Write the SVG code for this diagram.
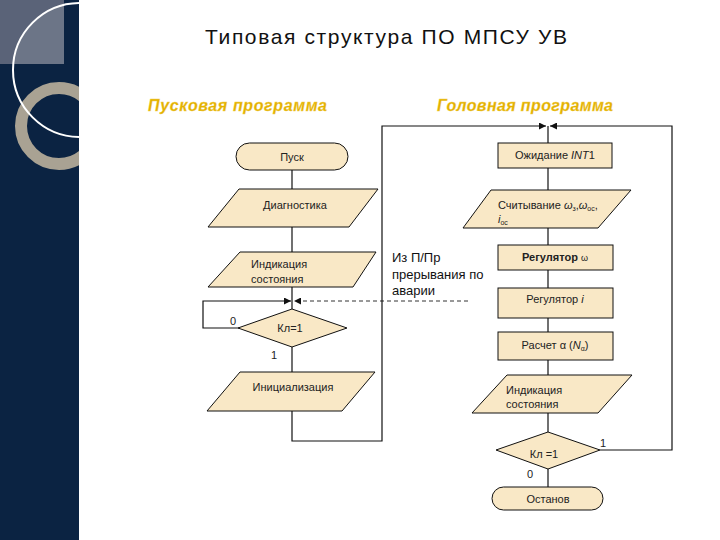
<svg xmlns="http://www.w3.org/2000/svg" width="720" height="540" viewBox="0 0 720 540">
<defs>
<style>
.box{fill:#f9e8c6;stroke:#111;stroke-width:1}
.ln{fill:none;stroke:#111;stroke-width:1.2}
.dash{fill:none;stroke:#333;stroke-width:1;stroke-dasharray:4 3}
.t{font-family:"Liberation Sans",Arial,sans-serif;font-size:11px;fill:#222}
.tc{text-anchor:middle}
.big{font-family:"Liberation Sans",Arial,sans-serif;font-size:13px;fill:#111}
.sub{font-family:"Liberation Sans",Arial,sans-serif;font-size:16px;font-weight:bold;font-style:italic;fill:#e2b000;stroke:#f3d050;stroke-width:0.3}
</style>
<marker id="ah" viewBox="0 0 10 10" refX="10" refY="5" markerWidth="7" markerHeight="7" markerUnits="userSpaceOnUse" orient="auto">
<path d="M0,0 L10,5 L0,10 Z" fill="#111"/>
</marker>
<clipPath id="side"><rect x="0" y="0" width="79" height="540"/></clipPath>
<clipPath id="circ"><circle cx="80" cy="70" r="67"/></clipPath>
</defs>
<rect x="0" y="0" width="720" height="540" fill="#ffffff"/>
<g id="sidebar" clip-path="url(#side)">
<rect x="0" y="0" width="79" height="540" fill="#0b2342"/>
<rect x="0" y="0" width="64" height="64" fill="#5a6378"/>
<rect x="0" y="0" width="64" height="64" fill="#6c7587" clip-path="url(#circ)"/>
<circle cx="59" cy="126" r="38" fill="none" stroke="#a9a293" stroke-width="12"/>
<circle cx="80" cy="70" r="67" fill="none" stroke="#ffffff" stroke-width="2"/>
</g>
<text x="205" y="44" textLength="362" font-family="'Liberation Sans',Arial,sans-serif" font-size="21" fill="#111">Типовая структура ПО МПСУ УВ</text>
<text class="sub" x="148" y="111" textLength="179">Пусковая программа</text>
<text class="sub" x="437" y="111" textLength="176">Головная программа</text>
<g id="connectors">
<line class="ln" x1="292" y1="170" x2="292" y2="189"/>
<line class="ln" x1="292" y1="227" x2="292" y2="252"/>
<line class="ln" x1="292" y1="287" x2="292" y2="309"/>
<polyline class="ln" points="240,328 203,328 203,301 291,301" marker-end="url(#ah)"/>
<line class="dash" x1="468" y1="301" x2="294" y2="301" marker-end="url(#ah)"/>
<line class="ln" x1="292" y1="347" x2="292" y2="372"/>
<polyline class="ln" points="292,411 292,441 382,441 382,126 546,126" marker-end="url(#ah)"/>
<polyline class="ln" points="600,450 672,450 672,126 550,126" marker-end="url(#ah)"/>
<line class="ln" x1="548" y1="126" x2="548" y2="143"/>
<line class="ln" x1="548" y1="168" x2="548" y2="190"/>
<line class="ln" x1="548" y1="228" x2="548" y2="245"/>
<line class="ln" x1="548" y1="270" x2="548" y2="288"/>
<line class="ln" x1="548" y1="318" x2="548" y2="332"/>
<line class="ln" x1="548" y1="360" x2="548" y2="375"/>
<line class="ln" x1="548" y1="413" x2="548" y2="432"/>
<line class="ln" x1="548" y1="469" x2="548" y2="487"/>
</g>
<g id="start">
<rect class="box" x="236" y="143" width="112" height="27" rx="13.5"/>
<text class="t tc" x="292" y="161">Пуск</text>
</g>
<g id="diag">
<polygon class="box" points="239,189 378,189 349,227 208,227"/>
<text class="t tc" x="295" y="209">Диагностика</text>
</g>
<g id="ind1">
<polygon class="box" points="240,252 376,252 353,287 208,287"/>
<text class="t" x="251" y="268">Индикация</text>
<text class="t" x="251" y="283">состояния</text>
</g>
<g id="dec1">
<polygon class="box" points="292,309 347,328 292,347 238,328"/>
<text class="t tc" x="290" y="332">Кл=1</text>
<text class="t" x="230" y="325">0</text>
<text class="t" x="271" y="359">1</text>
</g>
<g id="init">
<polygon class="box" points="240,372 375,372 342,411 207,411"/>
<text class="t tc" x="293" y="391">Инициализация</text>
</g>
<g id="note">
<text class="big" x="392" y="262">Из П/Пр</text>
<text class="big" x="392" y="279">прерывания по</text>
<text class="big" x="392" y="295">аварии</text>
</g>
<g id="wait">
<rect class="box" x="498" y="143" width="114" height="25"/>
<text class="t tc" x="555" y="159">Ожидание <tspan font-style="italic">INT</tspan>1</text>
</g>
<g id="read">
<polygon class="box" points="491,190 631,190 598,228 463,228"/>
<text class="t" x="498" y="209">Считывание <tspan font-style="italic">ω</tspan><tspan font-size="7" dy="2">з</tspan><tspan dy="-2">,</tspan><tspan font-style="italic">ω</tspan><tspan font-size="7" dy="2">ос</tspan><tspan dy="-2">,</tspan></text>
<text class="t" x="498" y="223"><tspan font-style="italic">i</tspan><tspan font-size="7" dy="2">ос</tspan></text>
</g>
<g id="regw">
<rect class="box" x="498" y="245" width="115" height="25"/>
<text class="t tc" x="555" y="261" font-weight="bold" fill="#333">Регулятор <tspan font-weight="normal" font-size="9">ω</tspan></text>
</g>
<g id="regi">
<rect class="box" x="498" y="288" width="115" height="30"/>
<text class="t tc" x="555" y="303">Регулятор <tspan font-style="italic">i</tspan></text>
</g>
<g id="calc">
<rect class="box" x="498" y="332" width="115" height="28"/>
<text class="t tc" x="555" y="349">Расчет α (<tspan font-style="italic">N</tspan><tspan font-size="7" dy="2">α</tspan><tspan dy="-2">)</tspan></text>
</g>
<g id="ind2">
<polygon class="box" points="507,375 632,375 598,413 472,413"/>
<text class="t" x="506" y="394">Индикация</text>
<text class="t" x="506" y="408">состояния</text>
</g>
<g id="dec2">
<polygon class="box" points="548,432 600,450 548,469 496,450"/>
<text class="t tc" x="544" y="458">Кл =1</text>
<text class="t" x="600" y="447">1</text>
<text class="t" x="527" y="478">0</text>
</g>
<g id="stop">
<rect class="box" x="492" y="487" width="111" height="23" rx="11.5"/>
<text class="t tc" x="548" y="503">Останов</text>
</g>
</svg>
